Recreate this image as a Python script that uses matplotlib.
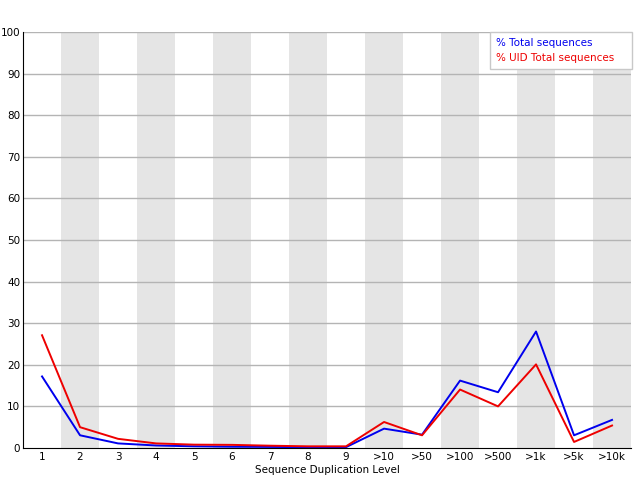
import matplotlib
matplotlib.use("Agg")
import matplotlib.pyplot as plt
import numpy as np

levels = ["1", "2", "3", "4", "5", "6", "7", "8", "9", ">10", ">50",
          ">100", ">500", ">1k", ">5k", ">10k"]
total_pct = [17.2, 3.05, 1.1, 0.6, 0.4, 0.3, 0.25, 0.2, 0.2, 4.65, 3.2,
             16.2, 13.4, 28.0, 3.05, 6.75]
uid_pct = [27.1, 5.0, 2.2, 1.1, 0.8, 0.75, 0.55, 0.4, 0.4, 6.25, 3.05,
           14.05, 10.0, 20.1, 1.45, 5.4]

fig = plt.figure(figsize=(6.4, 4.8), dpi=100)
ax = fig.add_axes([0.036, 0.0667, 0.95, 0.8666])

x = np.arange(len(levels))
for i in x[1::2]:
    ax.axvspan(i - 0.5, i + 0.5, color="#e5e5e5", lw=0, zorder=0)
for y in range(10, 101, 10):
    ax.axhline(y, color="#b4b4b4", lw=1, zorder=1)

blue, = ax.plot(x, total_pct, color="#0000ee", lw=1.4, zorder=3,
                label="% Total sequences")
red, = ax.plot(x, uid_pct, color="#ee0000", lw=1.4, zorder=3,
               label="% UID Total sequences")

ax.set_xlim(-0.5, len(levels) - 0.5)
ax.set_ylim(0, 100)
ax.set_yticks(range(0, 101, 10))
ax.set_xticks(x, levels)
ax.tick_params(labelsize=7.5, length=0)
ax.tick_params(axis="x", pad=3)
ax.tick_params(axis="y", pad=2)
for side in ("top", "right"):
    ax.spines[side].set_visible(False)
ax.spines["left"].set_color("black")
ax.spines["bottom"].set_color("black")
ax.set_xlabel("Sequence Duplication Level", fontsize=7.5, labelpad=2)

leg = ax.legend(handles=[blue, red], loc="upper left",
                bbox_to_anchor=(0.768, 0.5, 0.234, 0.5), mode="expand",
                borderaxespad=0, handlelength=0, handletextpad=0, fontsize=7.5,
                fancybox=False, framealpha=1, edgecolor="#c8c8c8",
                borderpad=0.55, labelspacing=0.5)
for text, c in zip(leg.get_texts(), ["#0000ee", "#ee0000"]):
    text.set_color(c)
for h in leg.legend_handles:
    h.set_visible(False)

fig.savefig("out.png", dpi=100)
